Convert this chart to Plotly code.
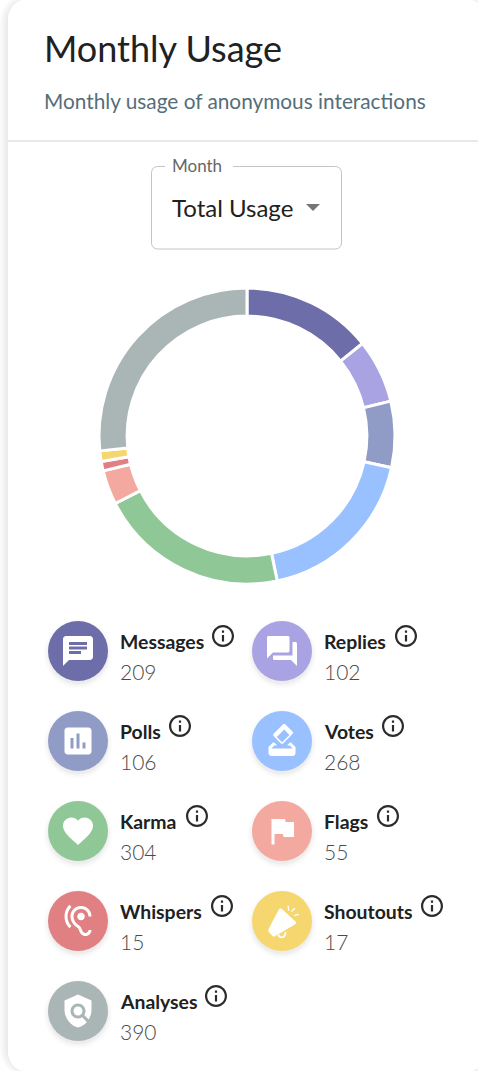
import re
import plotly.graph_objects as go

W, H = 478, 1071

# ---- data ----
categories = ["Messages", "Replies", "Polls", "Votes", "Karma", "Flags", "Whispers", "Shoutouts", "Analyses"]
values = [209, 102, 106, 268, 304, 55, 15, 17, 390]
colors = ["#6d6daa", "#a9a3e3", "#919cc6", "#99c1ff", "#8fc796", "#f3a9a0", "#e08083", "#f6d76f", "#aab6b5"]
title = "Monthly Usage"
subtitle = "Monthly usage of anonymous interactions"
select_label = "Month"
select_value = "Total Usage"

# ---- layout of the legend (decoration, in page pixels) ----
col_x = [78, 282]
row_y = [651, 741, 831, 921, 1011]
info_x = [223, 406, 180, 393, 197, 388, 222, 432, 216]

ICONS = {
    "Messages": ["M20 2H4c-1.1 0-2 .9-2 2v18l4-4h14c1.1 0 2-.9 2-2V4c0-1.1-.9-2-2-2z"],
    "Replies": ["M21 6h-2v9H6v2c0 .55.45 1 1 1h11l4 4V7c0-.55-.45-1-1-1zM17 12V3c0-.55-.45-1-1-1H3c-.55 0-1 .45-1 1v14l4-4h10c.55 0 1-.45 1-1z"],
    "Polls": ["M19 3H5c-1.1 0-2 .9-2 2v14c0 1.1.9 2 2 2h14c1.1 0 2-.9 2-2V5c0-1.1-.9-2-2-2z"],
    "Votes": ["M18 13h-.68l-2 2h1.91L19 17H5l1.78-2h2.05l-2-2H6l-3 3v4c0 1.1.89 2 1.99 2H19c1.1 0 2-.89 2-2v-4l-3-3z",
              "M17 7.95l-4.95 4.95-3.54-3.54 4.95-4.95L17 7.95zM12.76.88L6.39 7.25c-.39.39-.39 1.02 0 1.41l4.95 4.95c.39.39 1.02.39 1.41 0l6.36-6.36c.39-.39.39-1.02 0-1.41L14.16.88c-.38-.39-1.01-.39-1.4 0z"],
    "Karma": ["M12 21.35l-1.45-1.32C5.4 15.36 2 12.28 2 8.5 2 5.42 4.42 3 7.5 3c1.74 0 3.41.81 4.5 2.09C13.09 3.81 14.76 3 16.5 3 19.58 3 22 5.42 22 8.5c0 3.78-3.4 6.86-8.55 11.54L12 21.35z"],
    "Flags": ["M14.4 6L14 4H5v17h2v-7h5.6l.4 2h7V6z"],
    "Whispers": ["M17 20c-.29 0-.56-.06-.76-.15-.71-.37-1.21-.88-1.71-2.38-.51-1.56-1.47-2.29-2.39-3-.79-.61-1.61-1.24-2.32-2.53C9.29 10.98 9 9.93 9 9c0-2.8 2.2-5 5-5s5 2.2 5 5h2c0-3.93-3.07-7-7-7S7 5.07 7 9c0 1.26.38 2.65 1.07 3.9.91 1.65 1.98 2.48 2.85 3.15.81.62 1.39 1.07 1.71 2.05.6 1.82 1.37 2.84 2.73 3.55.51.23 1.07.35 1.64.35 2.21 0 4-1.79 4-4h-2c0 1.1-.9 2-2 2z",
                 "M7.64 2.64L6.22 1.22C4.23 3.21 3 5.96 3 9s1.23 5.79 3.22 7.78l1.41-1.41C6.01 13.74 5 11.49 5 9s1.01-4.74 2.64-6.36z",
                 "M11.5 9c0 1.38 1.12 2.5 2.5 2.5s2.5-1.12 2.5-2.5-1.12-2.5-2.5-2.5-2.5 1.12-2.5 2.5z"],
    "Shoutouts": ["M9.8 4.5c.5-.9 1.8-1 2.4-.3l8.8 8.2c.7.6.5 1.6-.4 1.9L7.2 22.2c-.7.3-1.5.1-1.9-.5L3.2 19.2c-.4-.6-.4-1.2-.1-1.8z",
                  "M8.9 21.2L10.2 20.8C10.5 22 11.4 22.5 12.3 22.2C13 22 13.6 21.2 13.6 19.6L14.8 19.2C15.2 21.4 14 23.1 12.4 23.4C10.8 23.7 9.3 22.8 8.9 21.2z",
                  "M15.6 1.9l.9-.1.5 3.2-.9.1z", "M18 5.4l2.3-2.2.6.6-2.3 2.2z", "M20 8l3-1 .3.9-3 1z"],
    "Analyses": ["M21 5l-9-4L3 5v6c0 5.55 3.84 10.74 9 12 2.3-.56 4.33-1.9 5.88-3.71l-3.12-3.12c-1.94 1.29-4.58 1.07-6.29-.64-1.95-1.95-1.95-5.12 0-7.07 1.95-1.95 5.12-1.95 7.07 0 1.71 1.71 1.92 4.35.64 6.29l2.9 2.9C20.29 15.69 21 13.38 21 11V5z",
                 "M12 15c1.66 0 3-1.34 3-3s-1.34-3-3-3-3 1.34-3 3 1.34 3 3 3z"],
}
ICON_CUTS = {
    "Messages": ["M6 6h12v2H6z", "M6 9h12v2H6z", "M6 12h8v2H6z"],
    "Polls": ["M7 10h2v7H7z", "M11 7h2v10h-2z", "M15 13h2v4h-2z"],
}
INFO = "M11 7h2v2h-2zM11 11h2v6h-2zM12 2C6.48 2 2 6.48 2 12s4.48 10 10 10 10-4.48 10-10S17.52 2 12 2zM12 20c-4.41 0-8-3.59-8-8s3.59-8 8-8 8 3.59 8 8-3.59 8-8 8z"


def X(x):
    return x / W


def Y(y):
    return 1 - y / H


def place(path, cx, cy, scale):
    """Parse an SVG path in a 24-unit box into an absolute path in paper coordinates."""
    toks = re.findall(r"[MmLlHhVvCcSsZz]|-?\d*\.?\d+", path)
    i, cmd, px, py, last = 0, None, 0.0, 0.0, None
    out = []

    def pt(a, b):
        return f"{X(cx + (a - 12) * scale):.6f},{Y(cy + (b - 12) * scale):.6f}"

    def num():
        nonlocal i
        v = float(toks[i])
        i += 1
        return v

    while i < len(toks):
        if re.match(r"[A-Za-z]", toks[i]):
            cmd = toks[i]
            i += 1
        c = cmd.lower()
        rel = cmd.islower()
        if c == "z":
            out.append("Z")
            last = None
        elif c in "ml":
            a, b = num(), num()
            px, py = (px + a, py + b) if rel else (a, b)
            out.append(("M" if c == "m" else "L") + pt(px, py))
            cmd = ("l" if rel else "L") if c == "m" else cmd
            last = None
        elif c == "h":
            a = num()
            px = px + a if rel else a
            out.append("L" + pt(px, py))
            last = None
        elif c == "v":
            a = num()
            py = py + a if rel else a
            out.append("L" + pt(px, py))
            last = None
        elif c == "c":
            v = [num() for _ in range(6)]
            if rel:
                v = [v[k] + (px if k % 2 == 0 else py) for k in range(6)]
            out.append("C" + pt(v[0], v[1]) + " " + pt(v[2], v[3]) + " " + pt(v[4], v[5]))
            last = (v[2], v[3])
            px, py = v[4], v[5]
        elif c == "s":
            v = [num() for _ in range(4)]
            if rel:
                v = [v[k] + (px if k % 2 == 0 else py) for k in range(4)]
            c1 = (2 * px - last[0], 2 * py - last[1]) if last else (px, py)
            out.append("C" + pt(*c1) + " " + pt(v[0], v[1]) + " " + pt(v[2], v[3]))
            last = (v[0], v[1])
            px, py = v[2], v[3]
    return " ".join(out)


def rrect(x0, y0, x1, y1, r):
    k = r * 0.4477
    p = [f"M{X(x0 + r):.6f},{Y(y0):.6f}", f"L{X(x1 - r):.6f},{Y(y0):.6f}",
         f"C{X(x1 - k):.6f},{Y(y0):.6f} {X(x1):.6f},{Y(y0 + k):.6f} {X(x1):.6f},{Y(y0 + r):.6f}",
         f"L{X(x1):.6f},{Y(y1 - r):.6f}",
         f"C{X(x1):.6f},{Y(y1 - k):.6f} {X(x1 - k):.6f},{Y(y1):.6f} {X(x1 - r):.6f},{Y(y1):.6f}",
         f"L{X(x0 + r):.6f},{Y(y1):.6f}",
         f"C{X(x0 + k):.6f},{Y(y1):.6f} {X(x0):.6f},{Y(y1 - k):.6f} {X(x0):.6f},{Y(y1 - r):.6f}",
         f"L{X(x0):.6f},{Y(y0 + r):.6f}",
         f"C{X(x0):.6f},{Y(y0 + k):.6f} {X(x0 + k):.6f},{Y(y0):.6f} {X(x0 + r):.6f},{Y(y0):.6f}", "Z"]
    return " ".join(p)


def pshape(path, fill, line=None, lw=0, layer="below"):
    return dict(type="path", xref="paper", yref="paper", path=path, fillcolor=fill, layer=layer,
                line=dict(color=line or "rgba(0,0,0,0)", width=lw))


def circle(cx, cy, r, fill, layer="below"):
    return dict(type="circle", xref="paper", yref="paper", x0=X(cx - r), x1=X(cx + r), y0=Y(cy + r), y1=Y(cy - r),
                fillcolor=fill, line=dict(width=0), layer=layer)


def text(s, x, y, size, color, weight=400, anchor="left"):
    return dict(text=s, x=X(x), y=Y(y), xref="paper", yref="paper", xanchor=anchor, yanchor="middle",
                showarrow=False, borderpad=0, align="left",
                font=dict(family="Lato", size=size, color=color, weight=weight))


FONT_DARK = "#212121"
shapes, ann = [], []

# card and its soft shadow
for s in (8, 6, 4, 2):
    shapes.append(pshape(rrect(8 - s, 0 - s + 2, 486 + s, 1071 + s - 2, 20 + s), "rgba(0,0,0,0.018)"))
shapes.append(pshape(rrect(8, -1, 486, 1072, 20), "#ffffff"))

# header
ann.append(text(title, 42.5, 48, 36, FONT_DARK))
ann.append(text(subtitle, 43, 100, 20.8, "#546e7a"))
shapes.append(dict(type="line", xref="paper", yref="paper", x0=X(8), x1=1, y0=Y(141), y1=Y(141),
                   line=dict(color="#e0e0e0", width=1.5), layer="below"))

# select box
shapes.append(pshape(rrect(151.5, 166.5, 341.5, 249, 6), "#ffffff", "#c4c4c4", 1))
shapes.append(dict(type="rect", xref="paper", yref="paper", x0=X(165), x1=X(233), y0=Y(172), y1=Y(160),
                   fillcolor="#ffffff", line=dict(width=0), layer="below"))
ann.append(text(select_label, 171, 165, 17, "#666666"))
ann.append(text(select_value, 171, 208, 24, FONT_DARK))
shapes.append(pshape(f"M{X(306):.6f},{Y(204):.6f} L{X(320):.6f},{Y(204):.6f} L{X(313):.6f},{Y(211):.6f} Z", "#757575"))

# legend
for i, cat in enumerate(categories):
    cx, cy = col_x[i % 2], row_y[i // 2]
    for r, a in ((35, 0.006), (34, 0.007), (33, 0.009), (32, 0.011), (31, 0.014), (30, 0.018)):
        shapes.append(circle(cx, cy + 3, r, f"rgba(0,0,0,{a})"))
    shapes.append(circle(cx, cy, 30, colors[i]))
    for p in ICONS[cat]:
        shapes.append(pshape(place(p, cx, cy, 1.5), "#ffffff", layer="above"))
    for p in ICON_CUTS.get(cat, []):
        shapes.append(pshape(place(p, cx, cy, 1.5), colors[i], layer="above"))
    ann.append(text(cat, cx + 40.5, cy - 10, 19.4, FONT_DARK, 700))
    ann.append(text(str(values[i]), cx + 40.5, cy + 20.5, 21, "#4a4a4a", 300))
    shapes.append(pshape(place(INFO, info_x[i], cy - 15, 1.1), "#2b2b2b", layer="above"))

fig = go.Figure(go.Pie(
    labels=categories, values=values, sort=False, direction="clockwise", rotation=0, hole=0.81,
    marker=dict(colors=colors, line=dict(color="#ffffff", width=3)),
    textinfo="none", hoverinfo="label+value", showlegend=False,
    domain=dict(x=[X(99), X(395)], y=[Y(584), Y(288)]),
))
fig.update_layout(width=W, height=H, autosize=False, margin=dict(l=0, r=0, t=0, b=0, pad=0),
                  paper_bgcolor="#ffffff", plot_bgcolor="#ffffff", shapes=shapes, annotations=ann,
                  font=dict(family="Lato"))
fig.write_html("out.html", config=dict(displayModeBar=False),
               post_script="document.body.style.margin='0';document.body.style.overflow='hidden';")
